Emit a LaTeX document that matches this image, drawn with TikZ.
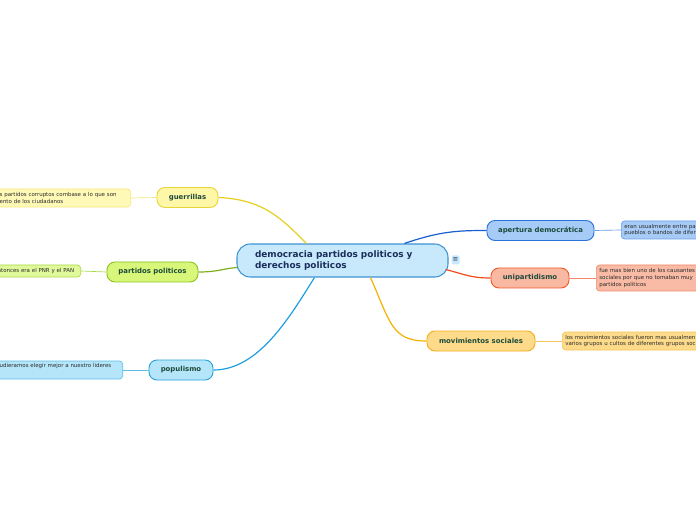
\documentclass[tikz,border=0pt]{standalone}
\usepackage{fontspec}
\setmainfont{DejaVu Sans}
\usetikzlibrary{calc}
\definecolor{cfill}{HTML}{C7E9FB}
\definecolor{cdraw}{HTML}{3D93D3}
\definecolor{navy}{HTML}{1A2E5C}
\definecolor{lblgreen}{HTML}{1D4A3A}
\definecolor{leaftxt}{HTML}{2A2A2A}
\definecolor{yfill}{HTML}{FFF7A8}\definecolor{ydraw}{HTML}{E8D53A}\definecolor{ylfill}{HTML}{FFF9B8}\definecolor{yldraw}{HTML}{F5E77A}\definecolor{yline}{HTML}{E6CF1E}
\definecolor{gfill}{HTML}{D8F77A}\definecolor{gdraw}{HTML}{8DC21F}\definecolor{glfill}{HTML}{E0F99A}\definecolor{gldraw}{HTML}{A8D84A}\definecolor{gline}{HTML}{7DB01C}
\definecolor{bfill}{HTML}{B5E5F9}\definecolor{bdraw}{HTML}{29A3DA}\definecolor{blfill}{HTML}{B5E5F9}\definecolor{bldraw}{HTML}{5DBDE8}\definecolor{bline}{HTML}{1E9FDF}
\definecolor{dfill}{HTML}{A7CBF7}\definecolor{ddraw}{HTML}{2B73D9}\definecolor{dlfill}{HTML}{A7CBF7}\definecolor{dldraw}{HTML}{6A9CE8}\definecolor{dline}{HTML}{1A5FCF}
\definecolor{rfill}{HTML}{F9B8A2}\definecolor{rdraw}{HTML}{F05A2A}\definecolor{rlfill}{HTML}{F9BBA5}\definecolor{rldraw}{HTML}{F2896A}\definecolor{rline}{HTML}{F04A1C}
\definecolor{ofill}{HTML}{FDDB8A}\definecolor{odraw}{HTML}{F2B01E}\definecolor{olfill}{HTML}{FDDB8A}\definecolor{oldraw}{HTML}{F6C65A}\definecolor{oline}{HTML}{F4B300}
\begin{document}
\begin{tikzpicture}[x=0.75pt,y=-0.75pt,
  central/.style={draw=cdraw,fill=cfill,line width=0.8pt,rounded corners=10pt,
    font=\bfseries\fontsize{6.7}{8.25}\selectfont,text=navy,align=left,
    text width=131.25pt,inner xsep=13.5pt,inner ysep=0pt,minimum height=24.75pt},
  branch/.style={draw,line width=0.7pt,rounded corners=6pt,
    font=\bfseries\fontsize{5.2}{6}\selectfont,text=lblgreen,inner sep=0pt,minimum height=15pt},
  leaf/.style={draw,line width=0.5pt,rounded corners=2.5pt,
    font=\fontsize{4.1}{4.9}\selectfont,text=leaftxt,align=left,inner xsep=2.25pt,inner ysep=0pt},
  main/.style={line width=0.9pt},
  thin/.style={line width=0.5pt}]
\useasboundingbox (0,0) rectangle (696,520);
\clip (0,0) rectangle (696,520);
\fill[white] (0,0) rectangle (696,520);

% central
\node[central] (c) at (342.5,260.5) {democracia partidos politicos y\\derechos politicos};
\node[fill=cfill,rounded corners=1pt,inner sep=0pt,minimum width=6pt,minimum height=6.75pt,
  font=\fontsize{5}{5}\selectfont,text=navy] (menu) at (455.5,260) {≡};

% branches
\node[branch,fill=yfill,draw=ydraw,minimum width=45.75pt] (gu) at (187.5,197.5) {guerrillas};
\node[branch,fill=gfill,draw=gdraw,minimum width=68.25pt] (pp) at (152.5,272) {partidos politicos};
\node[branch,fill=bfill,draw=bdraw,minimum width=48pt] (po) at (181,370) {populismo};
\node[branch,fill=dfill,draw=ddraw,minimum width=80.25pt] (ap) at (540.5,230.5) {apertura democrática};
\node[branch,fill=rfill,draw=rdraw,minimum width=58.5pt] (un) at (530,278) {unipartidismo};
\node[branch,fill=ofill,draw=odraw,minimum width=81pt] (mo) at (481,341) {movimientos sociales};

% leaves
\node[leaf,fill=ylfill,draw=yldraw,text width=96pt,minimum height=13.5pt,anchor=east] (gl) at (131,198)
  {s partidos corruptos combase a lo que son\\ento de los ciudadanos};
\node[leaf,fill=glfill,draw=gldraw,text width=60pt,minimum height=9pt,anchor=east] (pl) at (81,271)
  {ntonces era el PNR y el PAN};
\node[leaf,fill=blfill,draw=bldraw,text width=90pt,minimum height=13.5pt,anchor=east] (pol) at (123,370)
  {udieramos elegir mejor a nuestro lideres\\[2pt]\mbox{}};
\node[leaf,fill=dlfill,draw=dldraw,text width=90pt,minimum height=13.5pt,anchor=west] (al) at (621,230)
  {eran usualmente entre pa\\pueblos o bandos de difer};
\node[leaf,fill=rlfill,draw=rldraw,text width=90pt,minimum height=19.5pt,anchor=west] (ul) at (596,278)
  {fue mas bien uno de los causantes\\sociales por que no tomaban muy\\partidos politicos};
\node[leaf,fill=olfill,draw=oldraw,text width=120pt,minimum height=13.5pt,anchor=west] (ml) at (562,341)
  {los movimientos sociales fueron mas usualmen\\varios grupos u cultos de diferentes grupos soc};

% leaf connectors
\draw[thin,yldraw] (gl.east) -- (gu.west);
\draw[thin,gldraw] (pl.east) -- (pp.west);
\draw[thin,bldraw] (pol.east) -- (po.west);
\draw[thin,dldraw] (ap.east) -- (al.west);
\draw[thin,rldraw] (un.east) -- (ul.west);
\draw[thin,oldraw] (mo.east) -- (ml.west);

% main connectors
\draw[main,yline] (gu.east) .. controls +(45,2) and +(-25,-25) .. ($(c.north west)+(70,0)$);
\draw[main,gline] (pp.east) .. controls +(20,0) and +(-15,1) .. ($(c.west)+(1,7)$);
\draw[main,bline] (po.east) .. controls +(45,0) and +(-25,40) .. ($(c.south west)+(78,0)$);
\draw[main,dline] ($(c.north west)+(168,0)$) .. controls +(35,-12) and +(-30,0) .. (ap.west);
\draw[main,rline] ($(c.east)+(-3,9)$) .. controls +(20,5) and +(-20,0) .. (un.west);
\draw[main,oline] ($(c.south west)+(134,0)$) .. controls +(20,45) and +(-35,0) .. (mo.west);
\end{tikzpicture}
\end{document}
